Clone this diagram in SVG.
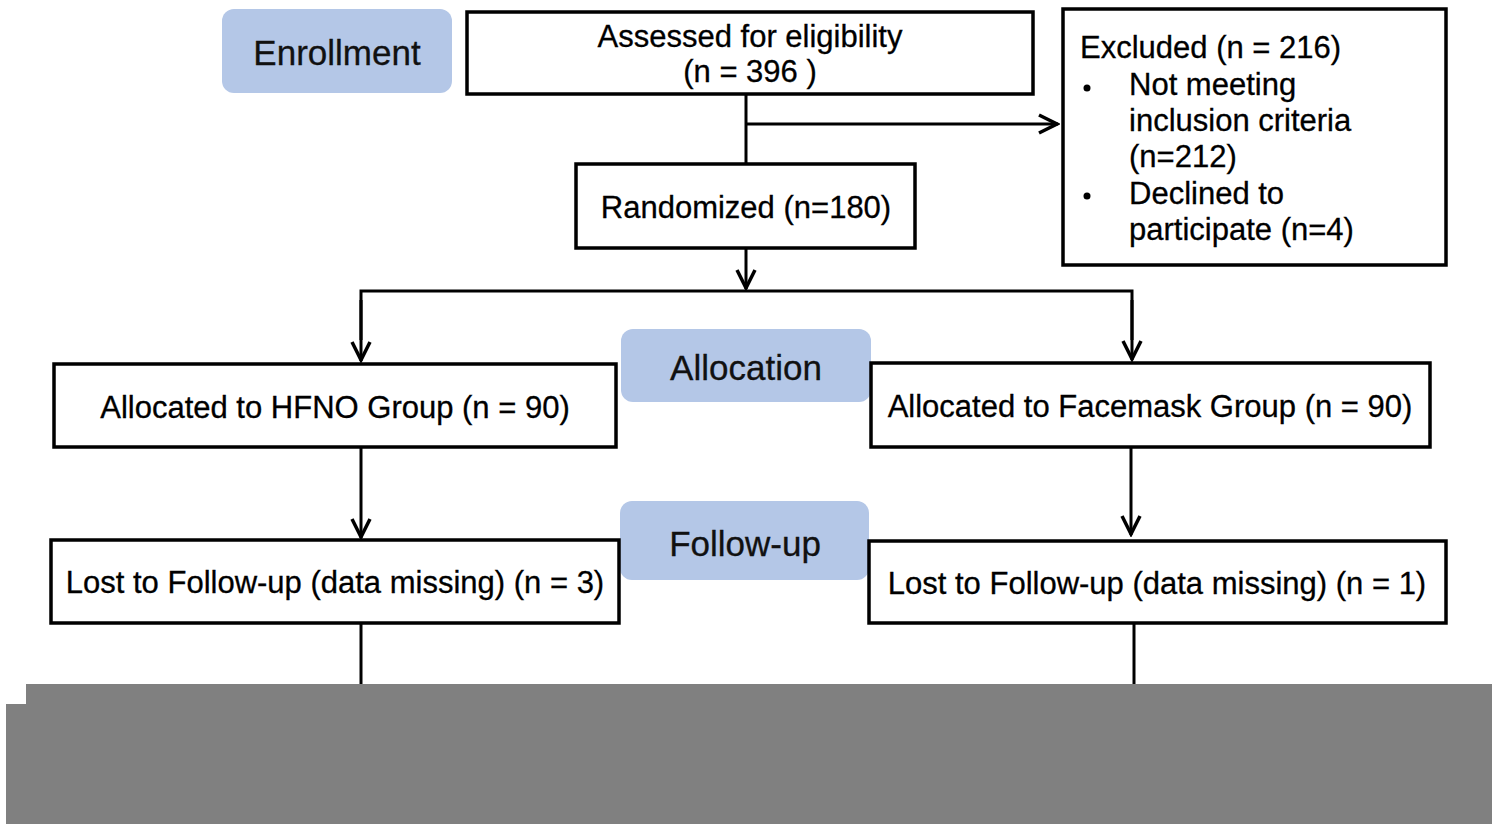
<svg xmlns="http://www.w3.org/2000/svg" width="1499" height="824" viewBox="0 0 1499 824">
<style>
.box{fill:#fff;stroke:#000;stroke-width:3.5}
.stage{fill:#b4c7e7}
.t{font-family:"Liberation Sans",Arial,sans-serif;font-size:31px;fill:#000;stroke:#000;stroke-width:0.3}
.st{font-family:"Liberation Sans",Arial,sans-serif;font-size:35px;fill:#111;stroke:#111;stroke-width:0.3}
.c{text-anchor:middle}
.ln{fill:none;stroke:#000;stroke-width:3}
</style>
<defs>
<marker id="arr" viewBox="-24 -12 26 24" refX="0" refY="0" markerWidth="26" markerHeight="24" markerUnits="userSpaceOnUse" orient="auto">
<path d="M-19,-9 L-1,0 L-19,9" fill="none" stroke="#000" stroke-width="3.5"/>
</marker>
</defs>
<rect width="1499" height="824" fill="#fff"/>
<g id="enrollment"><rect class="stage" x="222" y="9" width="230" height="84" rx="12"/><text class="st c" x="337" y="65">Enrollment</text></g>
<g id="assessed"><rect class="box" x="467" y="12" width="566" height="82"/><text class="t c" x="750" y="47">Assessed for eligibility</text><text class="t c" x="750" y="82">(n = 396 )</text></g>
<g id="excluded"><rect class="box" x="1063" y="9" width="383" height="256"/>
<text class="t" x="1080" y="58">Excluded (n = 216)</text>
<circle cx="1087" cy="88" r="3.5"/><circle cx="1087" cy="196" r="3.5"/>
<text class="t" x="1129" y="95">Not meeting</text>
<text class="t" x="1129" y="131">inclusion criteria</text>
<text class="t" x="1129" y="167">(n=212)</text>
<text class="t" x="1129" y="204">Declined to</text>
<text class="t" x="1129" y="240">participate (n=4)</text></g>
<g id="randomized"><rect class="box" x="576" y="164" width="339" height="84"/><text class="t c" x="746" y="218">Randomized (n=180)</text></g>
<g id="allocation"><rect class="stage" x="621" y="329" width="250" height="73" rx="12"/><text class="st c" x="746" y="380">Allocation</text></g>
<g id="hfno"><rect class="box" x="54" y="364" width="562" height="83"/><text class="t c" x="335" y="418">Allocated to HFNO Group (n = 90)</text></g>
<g id="facemask"><rect class="box" x="871" y="363" width="559" height="84"/><text class="t c" x="1150" y="417">Allocated to Facemask Group (n = 90)</text></g>
<g id="followup"><rect class="stage" x="620" y="501" width="249" height="79" rx="12"/><text class="st c" x="745" y="556">Follow-up</text></g>
<g id="lost-left"><rect class="box" x="51" y="540" width="568" height="83"/><text class="t c" x="335" y="593">Lost to Follow-up (data missing) (n = 3)</text></g>
<g id="lost-right"><rect class="box" x="869" y="541" width="577" height="82"/><text class="t c" x="1157" y="594">Lost to Follow-up (data missing) (n = 1)</text></g>
<g id="connectors">
<line class="ln" x1="746" y1="94" x2="746" y2="164"/>
<line class="ln" x1="746" y1="124" x2="1058" y2="124" marker-end="url(#arr)"/>
<line class="ln" x1="746" y1="248" x2="746" y2="289" marker-end="url(#arr)"/>
<polyline class="ln" points="361,340 361,291 1132,291 1132,340"/>
<line class="ln" x1="361" y1="300" x2="361" y2="361" marker-end="url(#arr)"/>
<line class="ln" x1="1132" y1="300" x2="1132" y2="360" marker-end="url(#arr)"/>
<line class="ln" x1="361" y1="447" x2="361" y2="538" marker-end="url(#arr)"/>
<line class="ln" x1="1131" y1="447" x2="1131" y2="535" marker-end="url(#arr)"/>
<line class="ln" x1="361" y1="623" x2="361" y2="690"/>
<line class="ln" x1="1134" y1="623" x2="1134" y2="690"/>
</g>
<path d="M26,684 H1492 V824 H6 V704 H26 Z" fill="#808080"/>
</svg>
